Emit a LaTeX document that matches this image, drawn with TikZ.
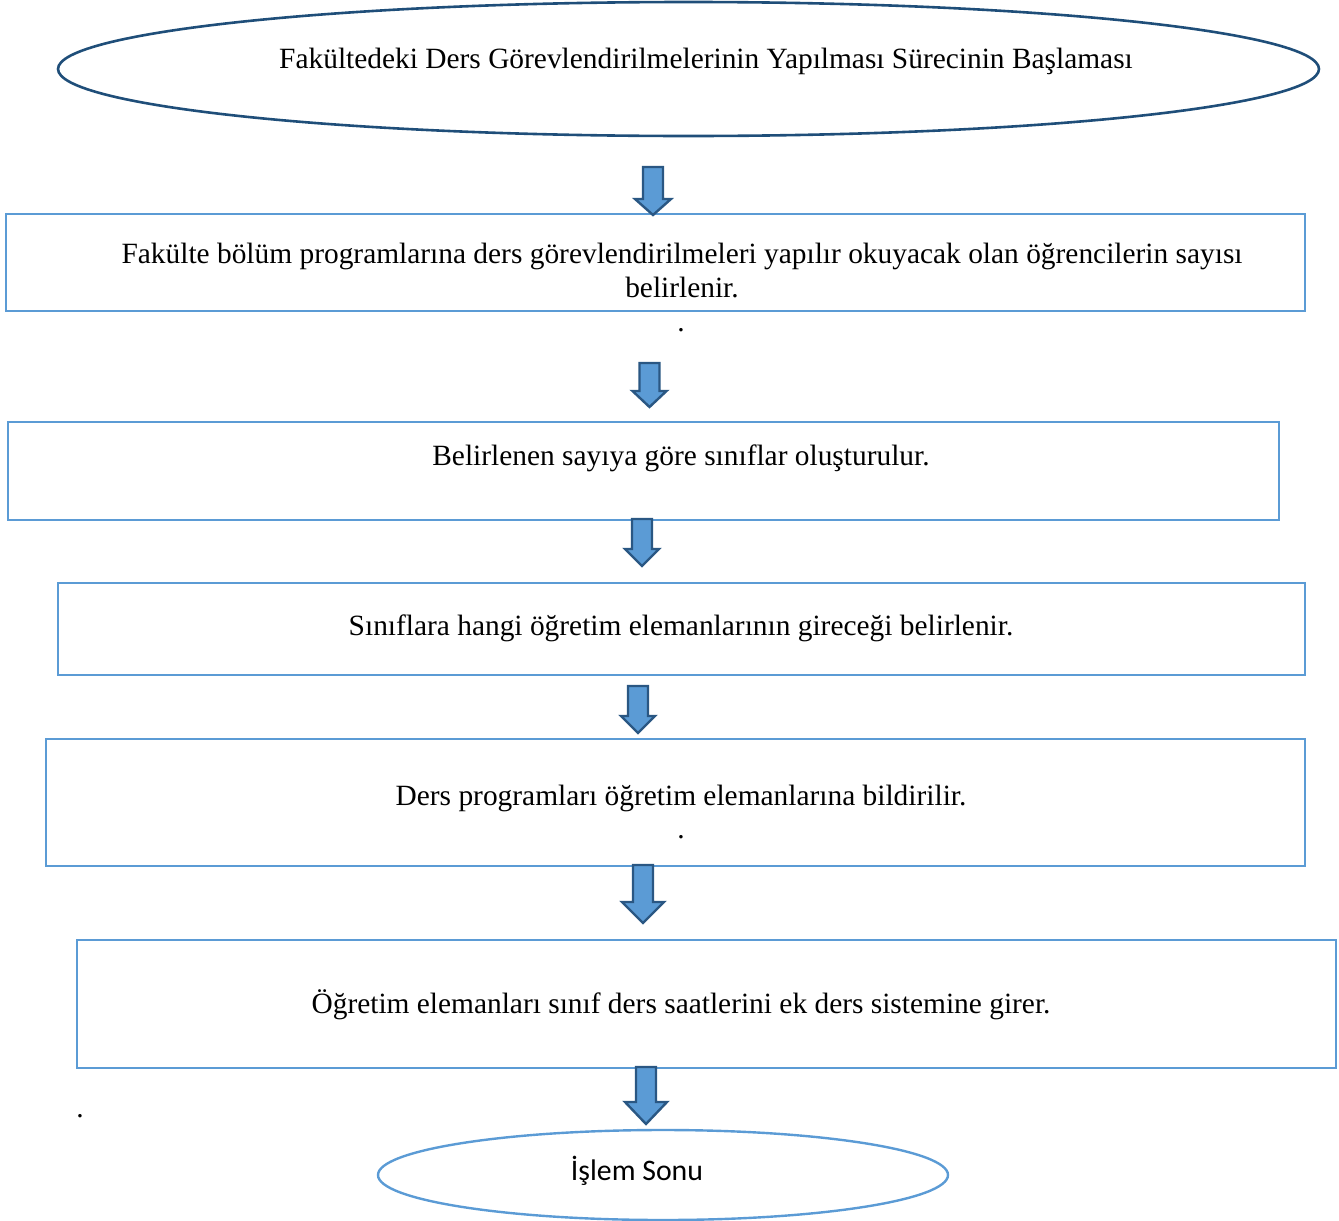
\documentclass[tikz,border=0pt]{standalone}
\usepackage{fontspec}
\setmainfont{Liberation Serif}
\newfontfamily\calibrifont{Carlito}
\usetikzlibrary{shapes.geometric}
\definecolor{boxblue}{HTML}{5B9BD5}
\definecolor{darkblue}{HTML}{1F4E79}
\definecolor{arrowedge}{HTML}{2A5783}
\tikzset{
  stepbox/.style={draw=boxblue, line width=2pt, rectangle, inner sep=0pt},
  startoval/.style={draw=darkblue, line width=2.6pt, ellipse, inner sep=0pt},
  endoval/.style={draw=boxblue, line width=2.4pt, ellipse, inner sep=0pt},
  steptext/.style={font=\fontsize{29.4}{34}\selectfont, align=center, inner sep=0pt},
  blockarrow/.style={fill=boxblue, draw=arrowedge, line width=2.4pt, line join=miter},
}
% downward block arrow: centre x, top y, tip y, head half width, head length
\newcommand{\downblock}[5]{%
  \draw[blockarrow] ({#1-10},#2) -- ({#1+10},#2) -- ({#1+10},{#3-#5}) -- ({#1+#4},{#3-#5})
    -- (#1,#3) -- ({#1-#4},{#3-#5}) -- ({#1-10},{#3-#5}) -- cycle;}
\begin{document}
\begin{tikzpicture}[x=1pt,y=-1pt]
\useasboundingbox (0,0) rectangle (1339,1221);

% start
\node[startoval, minimum width=1261pt, minimum height=134pt] (start) at (688.5,69) {};
\node[steptext] (t0) at (706,61) {Fakültedeki Ders Görevlendirilmelerinin Yapılması Sürecinin Başlaması};

% process steps
\node[stepbox, minimum width=1299pt, minimum height=97pt] (s1) at (655.5,262.5) {};
\node[steptext] (t1) at (682,271) {Fakülte bölüm programlarına ders görevlendirilmeleri yapılır okuyacak olan öğrencilerin sayısı\\belirlenir.};
\node[steptext] (d1) at (681,330) {.};

\node[stepbox, minimum width=1271pt, minimum height=98pt] (s2) at (643.5,471) {};
\node[steptext] (t2) at (681,458) {Belirlenen sayıya göre sınıflar oluşturulur.};

\node[stepbox, minimum width=1247pt, minimum height=92pt] (s3) at (681.5,629) {};
\node[steptext] (t3) at (681,628) {Sınıflara hangi öğretim elemanlarının gireceği belirlenir.};

\node[stepbox, minimum width=1259pt, minimum height=127pt] (s4) at (675.5,802.5) {};
\node[steptext] (t4) at (681,798) {Ders programları öğretim elemanlarına bildirilir.};
\node[steptext] (d4) at (681,837) {.};

\node[stepbox, minimum width=1259pt, minimum height=128pt] (s5) at (706.5,1004) {};
\node[steptext] (t5) at (681,1005) {Öğretim elemanları sınıf ders saatlerini ek ders sistemine girer.};

\node[steptext] (d5) at (80,1116) {.};

% end
\node[endoval, minimum width=570pt, minimum height=90pt] (finish) at (663,1175) {};
\node[inner sep=0pt, font=\calibrifont\fontsize{29.8}{34}\selectfont] (tend) at (637,1171) {İşlem Sonu};

% block arrows between the steps
\downblock{653}{167}{215}{18}{16}
\downblock{649.5}{363}{407}{17}{16}
\downblock{642}{519}{566}{17}{17}
\downblock{638}{686}{733}{17}{17}
\downblock{643}{865}{923}{21}{21}
\downblock{646}{1067}{1124}{21}{22}
\end{tikzpicture}
\end{document}
